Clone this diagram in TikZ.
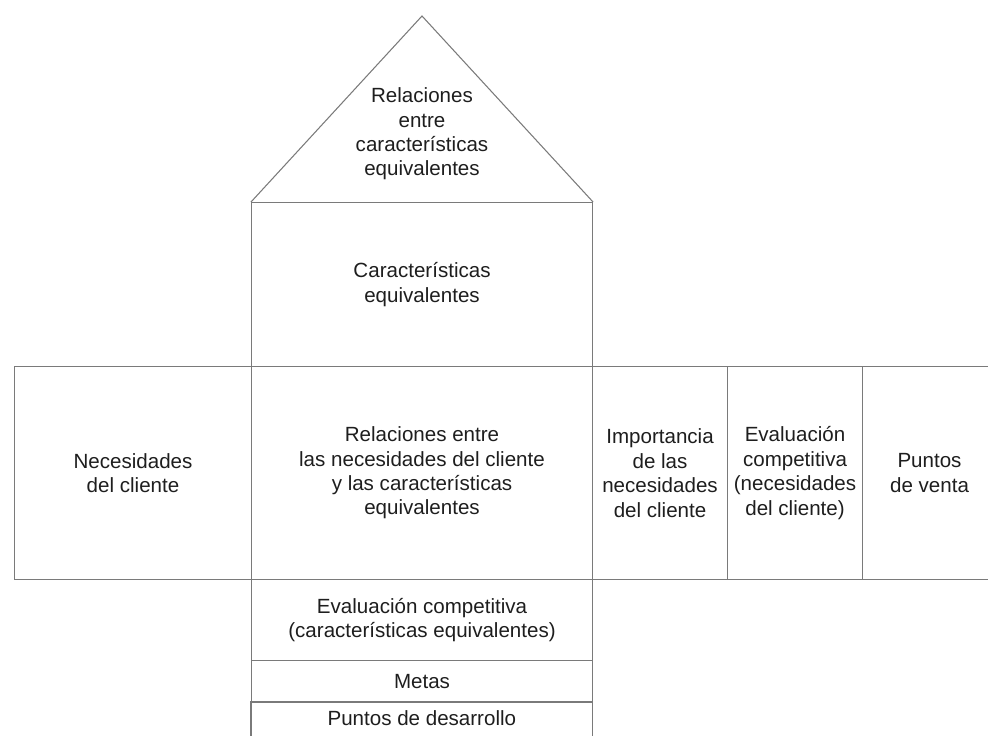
\documentclass[tikz,border=0pt]{standalone}
\usepackage{fontspec}
\setmainfont{Liberation Sans}
\definecolor{rulegray}{HTML}{7A7A7A}
\definecolor{inkdark}{HTML}{1E1E1E}
\newcommand{\cellfont}{\fontsize{11.7}{13.9}\selectfont}
\begin{document}
\begin{tikzpicture}[
  x=0.02cm, y=-0.02cm,
  rule/.style={draw=rulegray, line width=0.6pt},
  cell/.style={rule, rectangle, inner sep=0pt, anchor=north west,
    align=center, font=\cellfont, text=inkdark},
  label/.style={inner sep=0pt, align=center, font=\cellfont, text=inkdark},
]
\useasboundingbox[fill=white] (0,0) rectangle (988,736);

% column of technical characteristics
\node[cell, minimum width=341*0.02cm, minimum height=164*0.02cm] (tech) at (251,202)
  {Características\\equivalentes};

% roof
\coordinate (apex) at (422,16);
\draw[rule] (tech.north west) -- (apex) -- (tech.north east);
\node[label] (roof) at (422,134)
  {Relaciones\\entre\\características\\equivalentes};

% main row
\node[cell, minimum width=237*0.02cm, minimum height=213*0.02cm] (needs) at (14,366)
  {Necesidades\\del cliente};
\node[cell, minimum width=341*0.02cm, minimum height=213*0.02cm] (rel) at (251,366)
  {Relaciones entre\\las necesidades del cliente\\y las características\\equivalentes};
\node[cell, minimum width=135*0.02cm, minimum height=213*0.02cm] (imp) at (592,366)
  {Importancia\\de las\\necesidades\\del cliente};
\node[cell, minimum width=135*0.02cm, minimum height=213*0.02cm] (evn) at (727,366)
  {Evaluación\\competitiva\\(necesidades\\del cliente)};
\node[cell, minimum width=134*0.02cm, minimum height=213*0.02cm] (sales) at (862,366)
  {Puntos\\de venta};

% basement rows
\node[cell, minimum width=341*0.02cm, minimum height=81*0.02cm] (evc) at (251,579)
  {Evaluación competitiva\\(características equivalentes)};
\node[cell, minimum width=341*0.02cm, minimum height=42*0.02cm] (goals) at (251,660)
  {Metas};
\node[label, anchor=north west, minimum width=341*0.02cm, minimum height=32*0.02cm] (dev) at (251,702)
  {Puntos de desarrollo};
\draw[rule] (dev.north west) ++(0,40) -- (dev.north west) -- (dev.north east) -- ++(0,40);
\end{tikzpicture}
\end{document}
